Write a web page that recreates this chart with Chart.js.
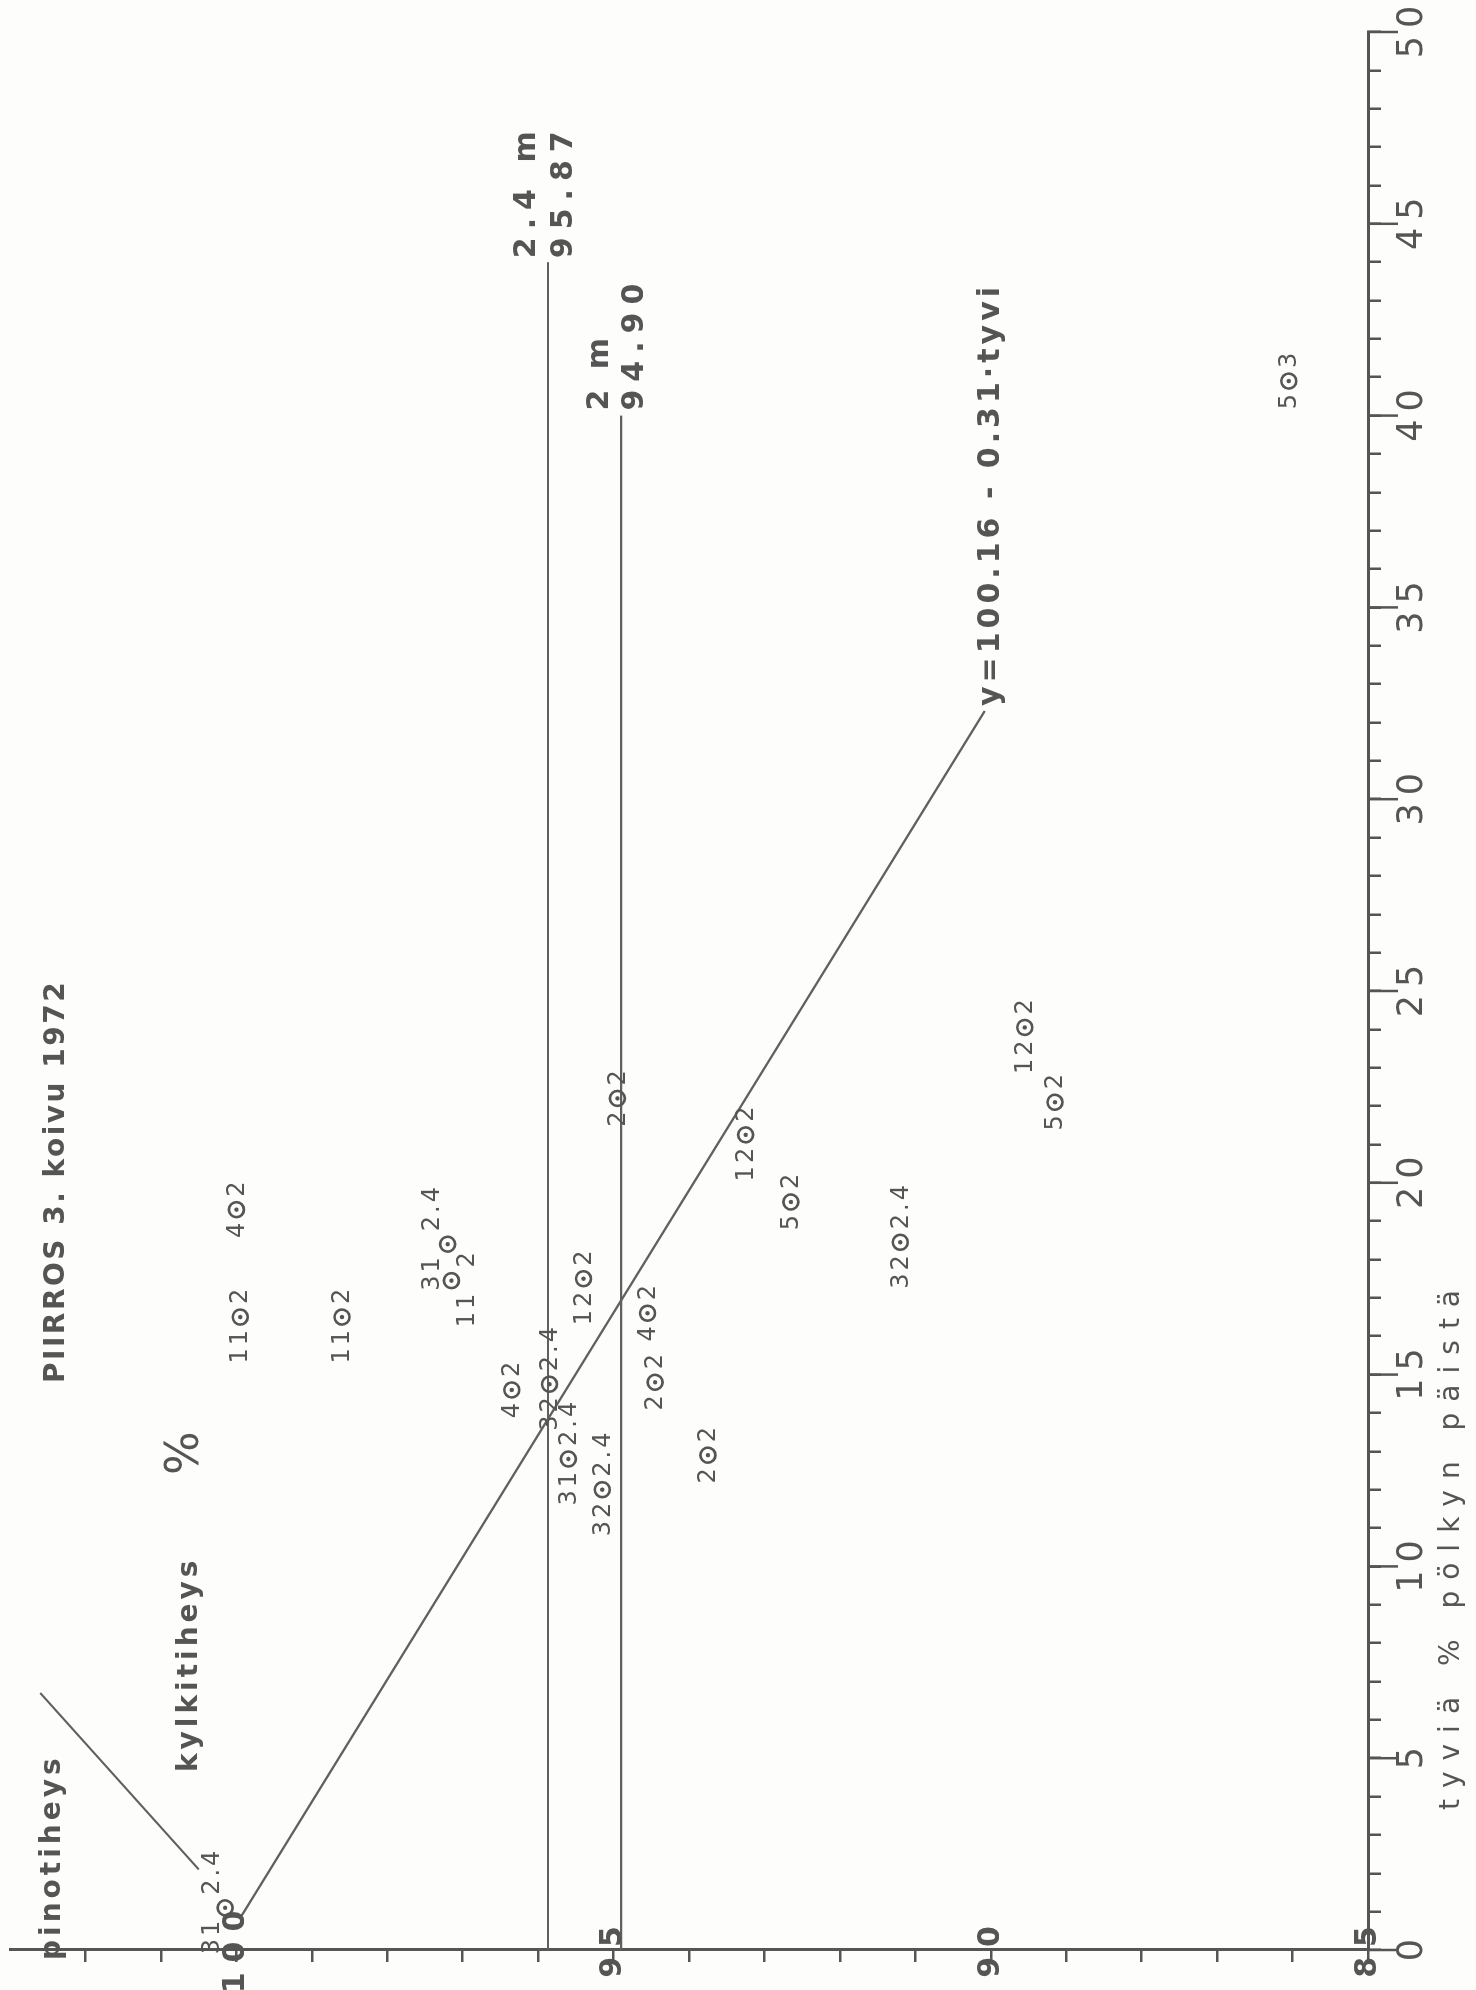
<!DOCTYPE html>
<html>
<head>
<meta charset="utf-8">
<title>PIIRROS 3. koivu 1972</title>
<script src="https://cdn.jsdelivr.net/npm/chart.js@4.4.1/dist/chart.umd.min.js"></script>
<style>
  html, body { margin: 0; padding: 0; background: #fdfdfc; overflow: hidden; }
  body { width: 1476px; height: 1990px; position: relative; }
  /* the drawing is made lying on its side, then turned to stand like the scan */
  #wrap { position: absolute; left: 0; top: 0; width: 1990px; height: 1476px;
          transform-origin: 0 0; transform: translateY(1990px) rotate(-90deg); }
  canvas { display: block; }
</style>
</head>
<body>
<div id="wrap"><canvas id="chart" width="1990" height="1476"></canvas></div>
<script>
// tyviä % pölkyn päistä (x) and kylkitiheys % (y) of each pile
const tyviPct  = [1.1, 19.3, 16.5, 16.5, 18.4, 17.45, 14.6, 14.75, 12.8, 12.0, 17.5, 22.2, 16.6, 14.8, 12.9, 21.25, 19.5, 18.45, 24.05, 22.1, 40.9];
const kylkiPct = [100.15, 100.0, 99.95, 98.6, 97.2, 97.15, 96.35, 95.85, 95.6, 95.15, 95.4, 94.95, 94.55, 94.45, 93.75, 93.25, 92.65, 91.2, 89.55, 89.15, 86.05];
const pileNo   = ['31', '4', '11', '11', '31', '11', '4', '32', '31', '32', '12', '2', '4', '2', '2', '12', '5', '32', '12', '5', '5'];
const logLen   = ['2.4', '2', '2', '2', '2.4', '2', '2', '2.4', '2.4', '2.4', '2', '2', '2', '2', '2', '2', '2', '2.4', '2', '2', '3'];

// mean levels for 2.4 m and 2 m logs
const level24X = [0, 44.0];
const level24Y = [95.87, 95.87];
const level2X  = [0, 40.0];
const level2Y  = [94.90, 94.90];

// y = 100.16 - 0.31 * tyvi, as drawn
const fitX = [0.9, 32.3];
const fitY = [99.93, 90.08];

// stroke between the pinotiheys / kylkitiheys headings
const headX = [6.7, 2.1];
const headY = [102.6, 100.5];

const tyviTicks  = [0, 5, 10, 15, 20, 25, 30, 35, 40, 45, 50];
const kylkiTicks = [100, 95, 90, 85];

const INK = '#555555';
const LINE = '#606060';
const FONT = '"DejaVu Sans", "Liberation Sans", sans-serif';

const pts = (xs, ys) => xs.map((v, i) => ({ x: v, y: ys[i] }));

// labels that were pushed aside on the sheet to keep clear of a neighbour
const labelNudge = { 0: -13, 4: -16, 5: 15 };

function spaced(ctx, text, x, y, align, spacing) {
  ctx.letterSpacing = '0px';
  const w = ctx.measureText(text).width + spacing * (text.length - 1);
  ctx.letterSpacing = spacing + 'px';
  let sx = x;
  if (align === 'center') sx = x - w / 2;
  if (align === 'right') sx = x - w;
  ctx.textAlign = 'left';
  ctx.fillText(text, sx, y);
  ctx.letterSpacing = '0px';
}

const inkPlugin = {
  id: 'ink',
  beforeDraw(chart) {
    const ctx = chart.ctx;
    ctx.save();
    ctx.fillStyle = '#fdfdfc';
    ctx.fillRect(0, 0, chart.width, chart.height);
    ctx.restore();
  },
  afterDraw(chart) {
    const { ctx, chartArea: a, scales: { x, y } } = chart;
    ctx.save();
    ctx.fillStyle = INK;
    ctx.strokeStyle = INK;
    ctx.textBaseline = 'middle';

    // long ticks + numbers on the tyvi axis
    ctx.lineWidth = 2.5;
    ctx.font = '35px ' + FONT;
    tyviTicks.forEach(v => {
      const px = x.getPixelForValue(v);
      ctx.beginPath();
      ctx.moveTo(px, a.bottom);
      ctx.lineTo(px, a.bottom + 30);
      ctx.stroke();
      spaced(ctx, String(v), px, a.bottom + 45, 'center', 8);
    });

    // numbers sitting across the kylkitiheys axis
    ctx.font = 'bold 30px ' + FONT;
    kylkiTicks.forEach(v => {
      const py = y.getPixelForValue(v);
      spaced(ctx, String(v), a.left - 2, py, 'center', 10);
    });

    // labels beside every pile mark
    const rings = chart.getDatasetMeta(0).data;
    ctx.font = '24px ' + FONT;
    rings.forEach((el, i) => {
      const dy = labelNudge[i] || 0;
      spaced(ctx, pileNo[i], el.x - 13, el.y + 1 + dy, 'right', 3);
      spaced(ctx, logLen[i], el.x + 13, el.y + 1 + dy, 'left', 3);
    });

    // level line captions
    ctx.font = 'bold 30px ' + FONT;
    const e24 = chart.getDatasetMeta(2).data[1];
    spaced(ctx, '2.4 m', e24.x + 4, e24.y - 21, 'left', 8);
    spaced(ctx, '95.87', e24.x + 4, e24.y + 16, 'left', 8);
    const e2 = chart.getDatasetMeta(3).data[1];
    spaced(ctx, '2 m', e2.x + 5, e2.y - 21, 'left', 5);
    spaced(ctx, '94.90', e2.x + 5, e2.y + 14, 'left', 8);

    const ef = chart.getDatasetMeta(4).data[1];
    spaced(ctx, 'y=100.16 - 0.31·tyvi', ef.x + 5, ef.y + 6, 'left', 4);

    // headings
    ctx.font = 'bold 28px ' + FONT;
    spaced(ctx, 'PIIRROS 3. koivu 1972', 607, 57, 'left', 2.5);
    spaced(ctx, 'pinotiheys', 30, 53, 'left', 4);
    spaced(ctx, 'kylkitiheys', 218, 190, 'left', 4);
    ctx.font = '46px ' + FONT;
    ctx.fillText('%', 515, 186);
    ctx.font = '28px ' + FONT;
    spaced(ctx, 'tyviä % pölkyn päistä', 180, 1452, 'left', 11);

    ctx.restore();
  }
};

const lineSet = (data) => ({
  type: 'line',
  data,
  showLine: true,
  borderColor: LINE,
  borderWidth: 2.2,
  pointRadius: 0,
  fill: false,
  tension: 0
});

new Chart(document.getElementById('chart'), {
  type: 'scatter',
  data: {
    datasets: [
      {
        data: pts(tyviPct, kylkiPct),
        pointStyle: 'circle',
        pointRadius: 7.5,
        pointBorderWidth: 2.6,
        pointBorderColor: INK,
        pointBackgroundColor: 'rgba(0,0,0,0)'
      },
      {
        data: pts(tyviPct, kylkiPct),
        pointRadius: 2.2,
        pointBorderWidth: 0,
        pointBackgroundColor: INK
      },
      lineSet(pts(level24X, level24Y)),
      lineSet(pts(level2X, level2Y)),
      lineSet(pts(fitX, fitY)),
      lineSet(pts(headX, headY))
    ]
  },
  options: {
    responsive: false,
    animation: false,
    layout: { padding: { left: 0, top: 6, right: 32, bottom: 0 } },
    plugins: { legend: { display: false }, tooltip: { enabled: false } },
    scales: {
      x: {
        type: 'linear',
        position: 'bottom',
        min: 0,
        max: 50,
        ticks: { stepSize: 1, display: false, autoSkip: false },
        grid: { drawOnChartArea: false, drawTicks: true, tickLength: 13, color: INK, lineWidth: 2.5 },
        border: { display: true, color: INK, width: 3 },
        afterFit: s => { s.height = 108; }
      },
      y: {
        type: 'linear',
        position: 'left',
        min: 85,
        max: 103,
        ticks: { stepSize: 1, display: false, autoSkip: false },
        grid: {
          drawOnChartArea: false,
          drawTicks: true,
          tickLength: 12,
          lineWidth: 2.5,
          color: INK,
          tickColor: c => (c.tick && c.tick.value >= 103 ? 'rgba(0,0,0,0)' : INK)
        },
        border: { display: true, color: INK, width: 3 },
        afterFit: s => { s.width = 40; }
      }
    }
  },
  plugins: [inkPlugin]
});
</script>
</body>
</html>
